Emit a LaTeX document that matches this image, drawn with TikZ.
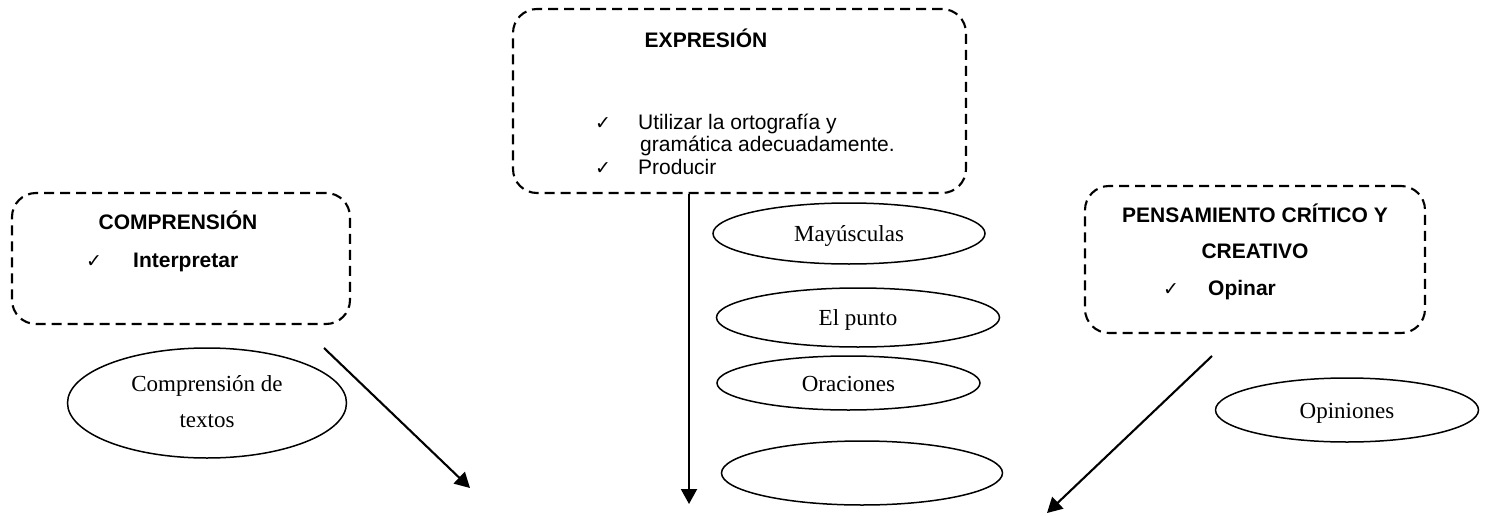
\documentclass[tikz,border=0pt]{standalone}
\usepackage{fontspec}
\setmainfont{Liberation Serif}
\newfontfamily\arialfont{Liberation Sans}
\newfontfamily\symfont{DejaVu Sans}
\usetikzlibrary{positioning,shapes.geometric,arrows.meta}
\newcommand{\chk}{{\symfont\fontsize{19}{19}\selectfont ✓}}

\begin{document}
\begin{tikzpicture}[x=1pt,y=-1pt,
  boxarea/.style={draw, dash pattern=on 10pt off 6pt, line width=2.1pt, rounded corners=24pt, inner sep=0pt},
  topicoval/.style={draw, ellipse, line width=1.5pt, inner sep=0pt, font=\fontsize{23}{36}\selectfont},
  wordoval/.style={topicoval, text height=16pt, text depth=0pt},
  heading/.style={anchor=base, inner sep=0pt, font=\arialfont\bfseries\fontsize{21}{25}\selectfont},
  itemtext/.style={anchor=base west, inner sep=0pt, font=\arialfont\fontsize{21}{25}\selectfont},
  tickmark/.style={anchor=base west, inner sep=0pt},
  arrowlink/.style={line width=2.1pt, -{Triangle[length=15pt,width=16pt]}}]
\useasboundingbox (0,0) rectangle (1488,516);
%boxes
\node[boxarea, minimum width=453pt, minimum height=184pt] (expr) at (739.5,101) {};
\node[boxarea, minimum width=338pt, minimum height=131pt] (compr) at (181,258.5) {};
\node[boxarea, minimum width=340pt, minimum height=147pt] (pens) at (1255,259.5) {};
%
\node[heading] (exprtitle) at (706,48) {EXPRESIÓN};
\node[tickmark] (exprtick1) at (595,129) {\chk};
\node[itemtext] (expritem1) at (638,129) {Utilizar la ortografía y};
\node[itemtext] (expritem2) at (640,152) {gramática adecuadamente.};
\node[tickmark] (exprtick2) at (595,175) {\chk};
\node[itemtext] (expritem3) at (638,175) {Producir};
%
\node[heading] (comprtitle) at (178,229) {COMPRENSIÓN};
\node[tickmark] (comprtick) at (86,267) {\chk};
\node[itemtext] (compritem) at (133,267) {\textbf{Interpretar}};
%
\node[heading] (penstitle1) at (1255,222) {PENSAMIENTO CRÍTICO Y};
\node[heading] (penstitle2) at (1255,258) {CREATIVO};
\node[tickmark] (penstick) at (1163,295) {\chk};
\node[itemtext] (pensitem) at (1208,295) {\textbf{Opinar}};
%ellipses
\node[topicoval, minimum width=279pt, minimum height=110pt, align=center, text height=48pt, text depth=0pt] (textos) at (207,403) {Comprensión de\\textos};
\node[wordoval, minimum width=272pt, minimum height=61pt] (mayus) at (849,233.5) {Mayúsculas};
\node[wordoval, minimum width=283pt, minimum height=59pt] (punto) at (858,317.5) {El punto};
\node[wordoval, minimum width=263pt, minimum height=54pt] (oraciones) at (848.5,383) {Oraciones};
\node[wordoval, minimum width=281pt, minimum height=64pt] (vacio) at (862,473) {};
\node[wordoval, minimum width=263pt, minimum height=64pt] (opiniones) at (1347,410) {Opiniones};
%arrows
\coordinate (comprstart) at (324,348);
\coordinate (comprend) at (470,488);
\coordinate (exprend) at (689,504);
\coordinate (pensstart) at (1212,356);
\coordinate (pensend) at (1047,513);
\draw[arrowlink] (comprstart) -- (comprend);
\draw[arrowlink] (expr.south -| exprend) -- (exprend);
\draw[arrowlink] (pensstart) -- (pensend);
\end{tikzpicture}
\end{document}
